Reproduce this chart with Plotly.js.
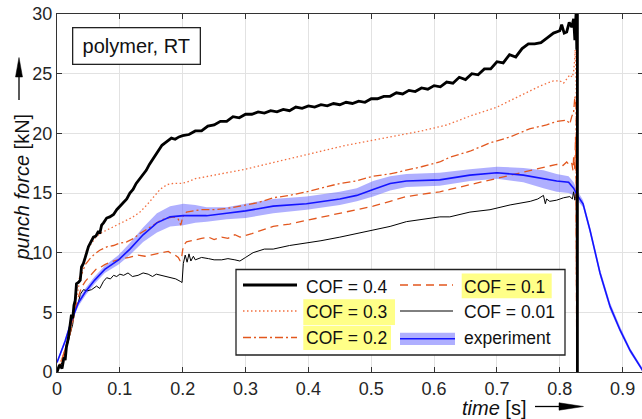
<!DOCTYPE html>
<html><head><meta charset="utf-8">
<script src="https://cdn.plot.ly/plotly-3.0.1.min.js"></script>
<style>html,body{margin:0;padding:0;overflow:hidden;background:#fff}#chart{width:643px;height:419px}</style>
</head><body><div id="chart"></div>
<script>
// ---------------- data ----------------
var xTickVals = [0, 0.1, 0.2, 0.3, 0.4, 0.5, 0.6, 0.7, 0.8, 0.9];
var xTickText = ["0", "0.1", "0.2", "0.3", "0.4", "0.5", "0.6", "0.7", "0.8", "0.9"];
var yTickVals = [0, 5, 10, 15, 20, 25, 30];
var yTickText = ["0", "5", "10", "15", "20", "25", "30"];

var seriesNames = ["COF = 0.4", "COF = 0.3", "COF = 0.2", "COF = 0.1", "COF = 0.01", "experiment"];

// COF = 0.4 (thick black)
var t04 = [0, 0.004, 0.008, 0.011, 0.013, 0.015, 0.018, 0.021, 0.023, 0.025, 0.027, 0.029, 0.031, 0.034, 0.037, 0.039, 0.042, 0.045, 0.048, 0.05, 0.054, 0.058, 0.062, 0.066, 0.068, 0.071, 0.074, 0.079, 0.084, 0.09, 0.095, 0.1, 0.105, 0.111, 0.116, 0.121, 0.126, 0.132, 0.137, 0.142, 0.147, 0.152, 0.157, 0.162, 0.167, 0.172, 0.177, 0.182, 0.188, 0.194, 0.2,
  0.21, 0.22, 0.23, 0.24, 0.25, 0.26, 0.27, 0.28, 0.29, 0.30, 0.31, 0.32, 0.33, 0.34, 0.35, 0.36, 0.37, 0.38, 0.39, 0.40, 0.41, 0.42, 0.43, 0.44, 0.45, 0.46, 0.47, 0.48, 0.49, 0.50, 0.51, 0.52, 0.53, 0.54, 0.55, 0.56, 0.57, 0.58, 0.59, 0.60, 0.61, 0.62, 0.63, 0.64, 0.65, 0.66, 0.67, 0.68, 0.69, 0.70, 0.71, 0.72, 0.73, 0.74, 0.75, 0.76, 0.77, 0.78, 0.79, 0.80, 0.803, 0.807, 0.811, 0.815, 0.819, 0.822, 0.824, 0.826, 0.827, 0.828, 0.828];
var f04 = [0, 0.6, 0.3, 1.2, 1.0, 2.1, 2.8, 3.8, 4.8, 4.5, 5.6, 6.0, 7.4, 7.5, 7.7, 8.8, 9.1, 9.6, 10.2, 10.5, 10.9, 11.3, 11.4, 11.8, 11.6, 12.3, 12.5, 12.9, 13.0, 13.2, 13.6, 13.9, 14.2, 14.5, 15.0, 15.3, 15.8, 16.2, 16.6, 16.9, 17.4, 17.8, 18.2, 18.7, 19.0, 19.2, 19.4, 19.6, 19.5, 19.7, 19.8,
  19.9, 20.2, 20.2, 20.6, 20.7, 21.0, 21.0, 21.4, 21.3, 21.6, 21.6, 21.8, 21.7, 21.9, 21.8, 22.0, 21.9, 22.2, 22.1, 22.3, 22.2, 22.4, 22.3, 22.5, 22.4, 22.6, 22.5, 22.7, 22.6, 22.9, 22.9, 23.1, 23.1, 23.4, 23.3, 23.6, 23.5, 23.8, 23.7, 24.0, 23.9, 24.3, 24.2, 24.7, 24.5, 25.0, 24.9, 25.4, 25.4, 26.0, 25.9, 26.6, 26.4, 27.1, 27.5, 27.5, 27.6, 28.0, 28.4, 28.6, 29.1, 28.4, 28.5, 29.3, 28.9, 29.6, 27.8, 30.2, 27.0, 31.0, 0];

// COF = 0.3 (dotted)
var t03 = [0, 0.01, 0.02, 0.025, 0.03, 0.035, 0.04, 0.047, 0.055, 0.062, 0.068, 0.08, 0.095, 0.11, 0.121, 0.132, 0.143, 0.153, 0.164, 0.175, 0.185, 0.196, 0.206, 0.22, 0.24, 0.26, 0.28, 0.3, 0.34, 0.38, 0.42, 0.46, 0.5, 0.54, 0.58, 0.62, 0.66, 0.7, 0.74, 0.77, 0.79, 0.8, 0.806, 0.812, 0.816, 0.82, 0.822, 0.824, 0.8245, 0.826, 0.827];
var f03 = [0, 1.4, 3.2, 4.6, 6.2, 7.4, 8.7, 10.2, 10.8, 11.3, 11.6, 11.9, 12.3, 12.7, 13.0, 13.4, 14.0, 14.6, 15.3, 15.7, 15.8, 15.8, 15.9, 16.2, 16.4, 16.6, 16.8, 17.0, 17.5, 18.0, 18.5, 19.0, 19.4, 19.8, 20.2, 20.7, 21.5, 22.2, 23.2, 24.0, 24.4, 24.4, 24.2, 24.6, 24.9, 24.7, 25.2, 26.3, 27.0, 24.0, 0];

// COF = 0.2 (dash-dot)
var t02 = [0, 0.01, 0.02, 0.025, 0.029, 0.031, 0.035, 0.04, 0.045, 0.0525, 0.06, 0.068, 0.08, 0.09, 0.1, 0.111, 0.122, 0.132, 0.142, 0.153, 0.164, 0.175, 0.186, 0.193, 0.197, 0.2, 0.206, 0.217, 0.228, 0.249, 0.27, 0.291, 0.32, 0.344, 0.37, 0.397, 0.42, 0.45, 0.475, 0.503, 0.53, 0.556, 0.58, 0.609, 0.625, 0.657, 0.689, 0.721, 0.753, 0.779, 0.795, 0.811, 0.816, 0.819, 0.822, 0.824, 0.826, 0.827];
var f02 = [0, 1.4, 3.2, 4.4, 5.5, 6.9, 7.8, 8.3, 9.0, 9.5, 9.9, 10.2, 10.5, 10.6, 10.8, 10.9, 11.2, 11.6, 11.9, 12.3, 12.7, 12.9, 13.0, 12.8, 12.3, 13.0, 13.4, 13.5, 13.6, 13.6, 13.7, 13.9, 14.2, 14.6, 14.8, 15.1, 15.4, 15.8, 16.0, 16.4, 16.6, 16.9, 17.2, 17.6, 18.0, 18.5, 19.2, 19.7, 20.4, 20.7, 21.0, 21.1, 20.8, 21.4, 21.8, 23.1, 22.0, 0];

// COF = 0.1 (dashed)
var t01 = [0, 0.01, 0.02, 0.025, 0.029, 0.034, 0.039, 0.045, 0.05, 0.055, 0.062, 0.07, 0.076, 0.085, 0.095, 0.103, 0.115, 0.129, 0.14, 0.156, 0.165, 0.177, 0.183, 0.188, 0.193, 0.196, 0.198, 0.201, 0.206, 0.213, 0.22, 0.23, 0.241, 0.25, 0.262, 0.272, 0.283, 0.291, 0.31, 0.344, 0.37, 0.397, 0.42, 0.45, 0.475, 0.503, 0.53, 0.556, 0.58, 0.609, 0.625, 0.657, 0.689, 0.721, 0.753, 0.774, 0.795, 0.805, 0.811, 0.816, 0.819, 0.821, 0.822, 0.824, 0.825, 0.826, 0.827];
var f01 = [0, 1.4, 3.0, 4.3, 5.2, 6.3, 7.1, 7.6, 7.9, 8.2, 8.6, 8.8, 9.0, 9.2, 9.4, 9.5, 9.6, 9.8, 9.7, 9.9, 10.0, 10.1, 9.9, 9.8, 9.6, 9.3, 9.5, 10.6, 10.9, 11.0, 11.1, 11.2, 11.3, 11.1, 11.3, 11.2, 11.5, 11.3, 11.6, 12.2, 12.4, 12.7, 13.0, 13.3, 13.6, 13.9, 14.3, 14.7, 14.9, 15.1, 15.3, 15.7, 16.1, 16.5, 16.9, 17.2, 17.4, 17.3, 17.6, 17.3, 17.5, 16.9, 18.0, 17.0, 19.7, 16.0, 0];

// COF = 0.01 (thin black)
var t001 = [0, 0.008, 0.015, 0.02, 0.025, 0.028, 0.031, 0.034, 0.037, 0.042, 0.048, 0.055, 0.063, 0.068, 0.074, 0.079, 0.085, 0.09, 0.095, 0.1, 0.106, 0.113, 0.12, 0.129, 0.137, 0.145, 0.152, 0.158, 0.167, 0.175, 0.182, 0.189, 0.196, 0.199, 0.201, 0.204, 0.207, 0.21, 0.213, 0.217, 0.22, 0.23, 0.241, 0.25, 0.262, 0.272, 0.283, 0.291, 0.3, 0.312, 0.33, 0.344, 0.37, 0.397, 0.42, 0.45, 0.475, 0.503, 0.53, 0.556, 0.58, 0.609, 0.625, 0.657, 0.689, 0.721, 0.753, 0.765, 0.774, 0.777, 0.779, 0.784, 0.795, 0.806, 0.816, 0.82, 0.822, 0.824, 0.826, 0.827];
var f001 = [0, 0.8, 2.0, 3.0, 4.0, 5.2, 5.6, 5.8, 6.5, 6.9, 6.8, 6.9, 7.2, 7.0, 7.6, 7.9, 7.8, 8.1, 8.0, 8.2, 8.1, 8.3, 8.0, 8.1, 8.3, 8.2, 8.0, 8.2, 8.1, 8.0, 7.9, 7.8, 7.6, 7.5, 9.1, 9.8, 9.2, 9.9, 9.3, 9.7, 9.4, 9.6, 9.5, 9.4, 9.4, 9.5, 9.4, 9.3, 9.6, 10.0, 10.3, 10.3, 10.6, 10.8, 11.0, 11.3, 11.6, 11.9, 12.2, 12.6, 12.8, 13.0, 13.0, 13.4, 13.6, 14.0, 14.3, 14.5, 14.8, 14.1, 14.5, 14.3, 14.4, 14.6, 14.7, 14.5, 15.1, 14.4, 15.0, 0];

// experiment (mean and scatter band)
var tExp = [0, 0.013, 0.023, 0.034, 0.045, 0.06, 0.076, 0.098, 0.116, 0.137, 0.159, 0.18, 0.201, 0.22, 0.238, 0.27, 0.3, 0.344, 0.397, 0.45, 0.477, 0.503, 0.53, 0.556, 0.609, 0.657, 0.7, 0.742, 0.774, 0.795, 0.814, 0.822, 0.829, 0.837, 0.848, 0.864, 0.88, 0.896, 0.912, 0.932];
var fExp = [0.8, 2.6, 4.3, 5.8, 6.7, 7.7, 8.6, 9.4, 10.3, 11.5, 12.5, 13.0, 13.1, 13.1, 13.1, 13.3, 13.5, 13.9, 14.1, 14.5, 14.8, 15.3, 15.8, 16.0, 16.1, 16.5, 16.7, 16.5, 16.2, 16.0, 15.9, 15.4, 14.7, 14.1, 11.9, 8.3, 5.5, 3.5, 1.8, 0.1];
var upExp = [0.9, 2.8, 4.5, 6.1, 7.0, 8.0, 8.9, 9.8, 10.8, 12.1, 13.3, 13.9, 14.1, 14.0, 13.8, 13.8, 14.1, 14.5, 14.7, 15.1, 15.4, 16.0, 16.4, 16.6, 16.7, 17.0, 17.2, 17.1, 16.9, 16.6, 16.4, 15.9, 15.1, 14.4, 12.2, 8.6, 5.8, 3.8, 2.0, 0.3];
var loExp = [0.7, 2.4, 4.1, 5.5, 6.4, 7.4, 8.3, 9.0, 9.8, 10.9, 11.7, 12.2, 12.3, 12.5, 12.6, 12.8, 12.9, 13.3, 13.6, 14.0, 14.3, 14.7, 15.2, 15.5, 15.6, 16.0, 16.2, 15.9, 15.4, 15.1, 15.0, 14.8, 14.3, 13.8, 11.6, 8.0, 5.2, 3.3, 1.6, 0.0];

// ---------------- styling ----------------
var ORANGE = '#E2571E', ORANGE_L = '#F27040', BLUE = '#1414FF', BAND = 'rgba(95,95,255,0.5)';
var DASH = '8px,5px', DASHDOT = '8px,3px,2px,3px', DOT = '1.5px,2.5px';
var FONT = 'Liberation Sans, Arial, Helvetica, sans-serif';

var traces = [
  {x: tExp.concat(tExp.slice().reverse()), y: upExp.concat(loExp.slice().reverse()), mode: 'lines', fill: 'toself', fillcolor: BAND, line: {width: 0, color: BAND}, name: seriesNames[5] + ' band', hoverinfo: 'skip'},
  {x: t001, y: f001, mode: 'lines', name: seriesNames[4], line: {color: '#000', width: 1}},
  {x: t01, y: f01, mode: 'lines', name: seriesNames[3], line: {color: ORANGE, width: 1.3, dash: DASH}},
  {x: t02, y: f02, mode: 'lines', name: seriesNames[2], line: {color: ORANGE, width: 1.3, dash: DASHDOT}},
  {x: t03, y: f03, mode: 'lines', name: seriesNames[1], line: {color: ORANGE_L, width: 1.3, dash: DOT}},
  {x: tExp, y: fExp, mode: 'lines', name: seriesNames[5], line: {color: BLUE, width: 1.6}},
  {x: t04, y: f04, mode: 'lines', name: seriesNames[0], line: {color: '#000', width: 2.8}}
];

// pixel -> paper helpers (plot area: left 57, top 14, width 586, height 358)
var PL = 57, PB = 372, PW = 586, PH = 358;
function px(x) { return (x - PL) / PW; }
function py(y) { return (PB - y) / PH; }
function pathP(pts) { return 'M' + pts.map(function (p) { return px(p[0]).toFixed(5) + ',' + py(p[1]).toFixed(5); }).join('L') + 'Z'; }

var shapes = [];
var annotations = [];

// legend box
shapes.push({type: 'rect', xref: 'paper', yref: 'paper', x0: px(236), x1: px(565), y0: py(355), y1: py(269.5), fillcolor: '#fff', line: {color: '#222', width: 1.3}, layer: 'above'});
// yellow highlights
[[461.7, 551.7, 273.5, 298.3], [303.3, 395, 299.3, 325], [303.3, 391, 325.7, 350]].forEach(function (r) {
  shapes.push({type: 'rect', xref: 'paper', yref: 'paper', x0: px(r[0]), x1: px(r[1]), y0: py(r[3]), y1: py(r[2]), fillcolor: '#FFFF88', line: {width: 0}, layer: 'above'});
});
// legend symbols
function legLine(x0, x1, y, color, width, dash) {
  shapes.push({type: 'line', xref: 'paper', yref: 'paper', x0: px(x0), x1: px(x1), y0: py(y), y1: py(y), line: {color: color, width: width, dash: dash || 'solid'}, layer: 'above'});
}
legLine(243, 297, 285, '#000', 2.8);
legLine(243, 297, 311, ORANGE_L, 1.3, DOT);
legLine(243, 297, 337.5, ORANGE, 1.3, DASHDOT);
legLine(400, 453, 285, ORANGE, 1.3, DASH);
legLine(400, 453, 311, '#000', 1);
shapes.push({type: 'rect', xref: 'paper', yref: 'paper', x0: px(400), x1: px(455), y0: py(345), y1: py(332.7), fillcolor: BAND, line: {width: 0}, layer: 'above'});
legLine(400, 455, 338.8, BLUE, 1.6);

// legend texts
var legPos = [[305, 286.5], [305, 312], [305, 338], [462.5, 286.5], [462.5, 312], [462.5, 338]];
var legOrder = [0, 1, 2, 3, 4, 5];
legOrder.forEach(function (i, k) {
  annotations.push({xref: 'paper', yref: 'paper', x: px(legPos[k][0]), y: py(legPos[k][1]), xanchor: 'left', yanchor: 'middle', text: seriesNames[i], showarrow: false, borderpad: 0, font: {family: FONT, size: 17.5, color: '#111'}});
});

// "polymer, RT" box
annotations.push({xref: 'paper', yref: 'paper', x: px(136.4), y: py(46), xanchor: 'center', yanchor: 'middle', text: 'polymer, RT', showarrow: false, bgcolor: '#fff', bordercolor: '#222', borderwidth: 1.3, borderpad: 1, width: 124, height: 33, font: {family: FONT, size: 20, color: '#111'}});

// axis titles
annotations.push({xref: 'paper', yref: 'paper', x: px(494.5), y: py(407.5), xanchor: 'center', yanchor: 'middle', text: '<i>time</i> [s]', showarrow: false, font: {family: FONT, size: 20, color: '#111'}});
annotations.push({xref: 'paper', yref: 'paper', x: px(21.5), y: py(187), xanchor: 'center', yanchor: 'middle', text: '<i>punch force</i> [kN]', textangle: -90, showarrow: false, font: {family: FONT, size: 20, color: '#111'}});

// arrows next to axis titles
shapes.push({type: 'line', xref: 'paper', yref: 'paper', x0: px(535), x1: px(562), y0: py(406.5), y1: py(406.5), line: {color: '#000', width: 1.3}});
shapes.push({type: 'path', xref: 'paper', yref: 'paper', path: pathP([[559, 402.8], [583.5, 406.5], [559, 410.2]]), fillcolor: '#000', line: {color: '#000', width: 0.5}});
shapes.push({type: 'line', xref: 'paper', yref: 'paper', x0: px(19), x1: px(19), y0: py(100), y1: py(74), line: {color: '#000', width: 1.3}});
shapes.push({type: 'path', xref: 'paper', yref: 'paper', path: pathP([[15.5, 77], [19, 57.5], [22.5, 77]]), fillcolor: '#000', line: {color: '#000', width: 0.5}});

var axisCommon = {
  ticks: 'inside', ticklen: 5, tickwidth: 1, tickcolor: '#333',
  showline: true, linecolor: '#333', linewidth: 1, mirror: 'ticks',
  showgrid: true, gridcolor: '#E2E2E2', gridwidth: 1, zeroline: false,
  tickfont: {family: FONT, size: 18, color: '#262626'}, fixedrange: true
};

var layout = {
  width: 643, height: 419,
  margin: {l: 57, r: 0, t: 14, b: 47, pad: 0},
  paper_bgcolor: '#fff', plot_bgcolor: '#fff',
  showlegend: false,
  font: {family: FONT, size: 18, color: '#262626'},
  xaxis: Object.assign({}, axisCommon, {range: [0, 0.9324], tickmode: 'array', tickvals: xTickVals, ticktext: xTickText}),
  yaxis: Object.assign({}, axisCommon, {range: [0, 30], tickmode: 'array', tickvals: yTickVals, ticktext: yTickText}),
  shapes: shapes,
  annotations: annotations
};

Plotly.newPlot('chart', traces, layout, {displayModeBar: false, staticPlot: true});
</script>
</body></html>
